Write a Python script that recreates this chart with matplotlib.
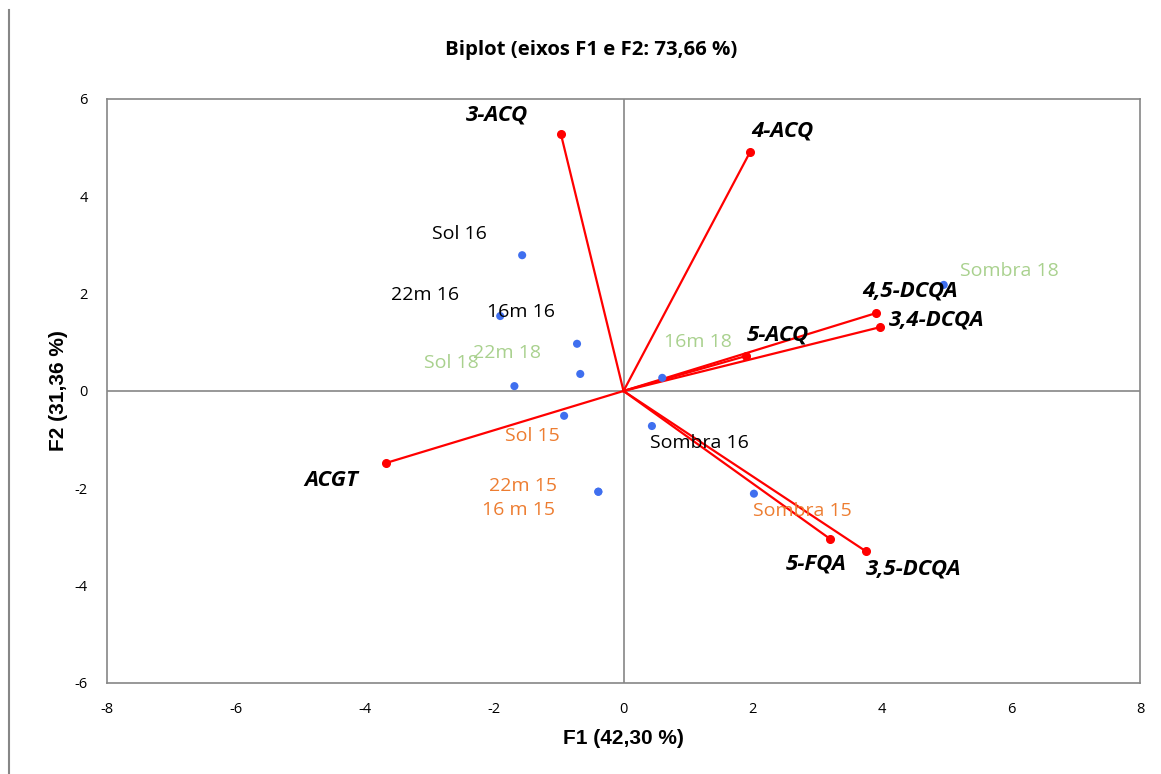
import matplotlib
matplotlib.use("Agg")
import matplotlib.pyplot as plt
from matplotlib.lines import Line2D

plt.rcParams["axes.unicode_minus"] = False

# variables (loadings, scaled)
var_names = ["3-ACQ", "4-ACQ", "4,5-DCQA", "3,4-DCQA", "5-ACQ", "ACGT", "5-FQA", "3,5-DCQA"]
var_f1 = [-0.97, 1.96, 3.91, 3.97, 1.90, -3.68, 3.20, 3.75]
var_f2 = [5.28, 4.91, 1.60, 1.31, 0.72, -1.48, -3.04, -3.29]

# observations (scores)
obs_names = ["Sol 16", "22m 16", "16m 16", "22m 18", "Sol 18", "Sol 15",
             "22m 15", "16 m 15", "16m 18", "Sombra 16", "Sombra 15", "Sombra 18"]
obs_f1 = [-1.57, -1.91, -0.72, -0.67, -1.69, -0.92, -0.39, -0.39, 0.60, 0.44, 2.02, 4.96]
obs_f2 = [2.79, 1.54, 0.97, 0.35, 0.10, -0.51, -2.07, -2.07, 0.27, -0.72, -2.11, 2.18]
obs_year = ["16", "16", "16", "18", "18", "15", "15", "15", "18", "16", "15", "18"]

year_colors = {"15": "#ED7D31", "16": "#000000", "18": "#A9D18E"}

# label offsets in pixels
var_offsets = [(-64, 19), (32, 21), (34, 22), (57, 7), (32, 21), (-55, -17), (-14, -25), (48, -18)]
obs_offsets = [(-63, 21), (-75, 21), (-56, 32), (-73, 21), (-63, 23), (-32, -20),
               (-75, 6), (-80, -18), (36, 36), (48, -17), (48, -17), (66, 14)]

grey = "#868686"
fig = plt.figure(figsize=(11.61, 7.74), dpi=100)
ax = fig.add_axes([0.0922, 0.1176, 0.8897, 0.7545])

ax.set_xlim(-8, 8)
ax.set_ylim(-6, 6)
ax.set_xticks(range(-8, 9, 2))
ax.set_yticks(range(-6, 7, 2))
ax.tick_params(axis="x", length=0, labelsize=10.5, pad=14, colors="#000000")
ax.tick_params(axis="y", length=0, labelsize=10.5, pad=14, colors="#000000")
for lab in ax.get_xticklabels() + ax.get_yticklabels():
    lab.set_family("Open Sans")
for sp in ax.spines.values():
    sp.set_color(grey)
    sp.set_linewidth(1.2)
ax.axhline(0, color=grey, lw=1.2, zorder=1)
ax.axvline(0, color=grey, lw=1.2, zorder=1)

# variable vectors
for name, x, y, off in zip(var_names, var_f1, var_f2, var_offsets):
    ax.plot([0, x], [0, y], color="#FF0000", lw=1.6, zorder=3)
    ax.plot(x, y, "o", color="#FF0000", ms=5.5, zorder=4)
    ax.annotate(name, (x, y), xytext=off, textcoords="offset pixels",
                ha="center", va="center", fontsize=16, fontweight="bold",
                fontstyle="italic", family="Open Sans", color="black", zorder=5)

# observations
ax.scatter(obs_f1, obs_f2, s=34, color="#3F6FEF", zorder=4, edgecolors="none")
for name, x, y, yr, off in zip(obs_names, obs_f1, obs_f2, obs_year, obs_offsets):
    ax.annotate(name, (x, y), xytext=off, textcoords="offset pixels",
                ha="center", va="center", fontsize=14, family="Open Sans",
                color=year_colors[yr], zorder=5)

ax.set_xlabel("F1 (42,30 %)", fontsize=15, fontweight="bold",
              family="Liberation Sans", labelpad=8)
ax.set_ylabel("F2 (31,36 %)", fontsize=15, fontweight="bold",
              family="Liberation Sans", labelpad=5)
fig.text(591 / 1161, 1 - 50 / 774, "Biplot (eixos F1 e F2: 73,66 %)",
         ha="center", va="center", fontsize=14.7, fontweight="bold",
         family="Open Sans")

# page border on the left
fig.add_artist(Line2D([9 / 1161, 9 / 1161], [0, 1 - 10 / 774],
                      color=grey, lw=1.5, transform=fig.transFigure))

fig.savefig("out.png", dpi=100)
